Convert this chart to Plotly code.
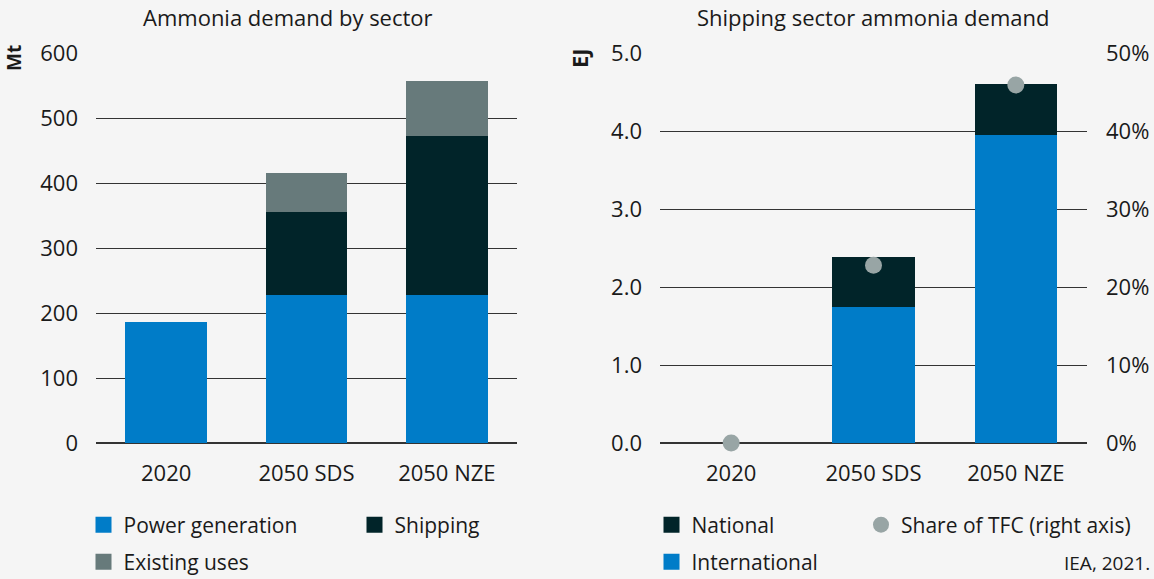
import plotly.graph_objects as go

categories = ["2020", "2050 SDS", "2050 NZE"]
power_generation = [186, 228, 228]
shipping = [0, 127, 244]
existing_uses = [0, 60, 85]

international = [0, 1.74, 3.95]
national = [0, 0.64, 0.65]
share_tfc = [0.0, 0.228, 0.459]

BLUE = "#007cc8"
DARK = "#012429"
GREY = "#677a7b"
MARK = "#98a5a5"
BG = "#f5f5f5"
TXT = "#1a1a1a"
FONT = "Open Sans"
FS = 22
LFS = 21

fig = go.Figure()

# Left chart bars
fig.add_bar(x=categories, y=power_generation, marker=dict(color=BLUE, line_width=0), name="Power generation",
            xaxis="x", yaxis="y", showlegend=False)
fig.add_bar(x=categories, y=shipping, marker=dict(color=DARK, line_width=0), name="Shipping",
            xaxis="x", yaxis="y", showlegend=False)
fig.add_bar(x=categories, y=existing_uses, marker=dict(color=GREY, line_width=0), name="Existing uses",
            xaxis="x", yaxis="y", showlegend=False)

# Right chart bars
fig.add_bar(x=categories, y=international, marker=dict(color=BLUE, line_width=0), name="International",
            xaxis="x2", yaxis="y2", showlegend=False)
fig.add_bar(x=categories, y=national, marker=dict(color=DARK, line_width=0), name="National",
            xaxis="x2", yaxis="y2", showlegend=False)
fig.add_scatter(x=categories, y=share_tfc, mode="markers", name="Share of TFC (right axis)",
                marker=dict(color=MARK, size=17), xaxis="x2", yaxis="y3", showlegend=False,
                cliponaxis=False)

# Legend entries (one legend per entry for exact placement)
def leg(name, color, legend, symbol="square", size=19):
    fig.add_scatter(x=[None], y=[None], mode="markers", name=name,
                    marker=dict(color=color, size=size, symbol=symbol),
                    xaxis="x", yaxis="y", legend=legend, showlegend=True)

leg("Power generation", BLUE, "legend")
leg("Shipping", DARK, "legend2")
leg("Existing uses", GREY, "legend3")
leg("National", DARK, "legend4")
leg("Share of TFC (right axis)", MARK, "legend5", symbol="circle", size=18)
leg("International", BLUE, "legend6")

W, H = 1154, 579
def px(x):
    return x / W
def py(y):
    return 1 - y / H

legfont = dict(family=FONT, size=LFS, color=TXT)
def legcfg(x, y):
    return dict(orientation="h", x=px(x), y=py(y), xanchor="left", yanchor="middle",
                font=legfont, bgcolor="rgba(0,0,0,0)", itemsizing="trace",
                itemclick=False, itemdoubleclick=False)

axis_common = dict(showgrid=False, showline=False, ticks="", zeroline=False,
                   tickfont=dict(family=FONT, size=FS, color=TXT), ticklabelstandoff=15)
yaxis_common = dict(showgrid=True, gridcolor="#333333", gridwidth=1, zeroline=True,
                    zerolinecolor="#333333", zerolinewidth=1.5, ticks="", showline=False,
                    tickfont=dict(family=FONT, size=FS, color=TXT), ticklabelstandoff=17)

fig.update_layout(
    width=W, height=H,
    paper_bgcolor=BG, plot_bgcolor=BG,
    margin=dict(l=0, r=0, t=0, b=0, autoexpand=False),
    barmode="stack", bargap=0.42,
    font=dict(family=FONT, size=FS, color=TXT),
    xaxis=dict(domain=[px(96), px(517)], anchor="y", **axis_common),
    yaxis=dict(domain=[py(443), py(53)], anchor="x", range=[0, 600], dtick=100, **yaxis_common),
    xaxis2=dict(domain=[px(660), px(1087)], anchor="y2", **axis_common),
    yaxis2=dict(domain=[py(443), py(53)], anchor="x2", range=[0, 5], dtick=1, tickformat=".1f",
                **yaxis_common),
    yaxis3=dict(overlaying="y2", anchor="x2", side="right", range=[0, 0.5], dtick=0.1,
                tickformat=".0%", showgrid=False, zeroline=False, ticks="", showline=False,
                tickfont=dict(family=FONT, size=FS, color=TXT), ticklabelstandoff=18),
    legend=legcfg(83.5, 525),
    legend2=legcfg(354.5, 525),
    legend3=legcfg(83.5, 562),
    legend4=legcfg(651.5, 525),
    legend5=legcfg(861, 525),
    legend6=legcfg(651.5, 562),
    showlegend=True,
    annotations=[
        dict(text="Ammonia demand by sector", x=px(288), y=py(17), xref="paper", yref="paper",
             showarrow=False, xanchor="center", yanchor="middle",
             font=dict(family=FONT, size=FS, color=TXT)),
        dict(text="Shipping sector ammonia demand", x=px(873), y=py(17), xref="paper", yref="paper",
             showarrow=False, xanchor="center", yanchor="middle",
             font=dict(family=FONT, size=FS, color=TXT)),
        dict(text="<b>Mt</b>", x=px(14), y=py(43), xref="paper", yref="paper", textangle=-90,
             showarrow=False, xanchor="center", yanchor="top",
             font=dict(family=FONT, size=19, color=TXT)),
        dict(text="<b>EJ</b>", x=px(579), y=py(46), xref="paper", yref="paper", textangle=-90,
             showarrow=False, xanchor="center", yanchor="top",
             font=dict(family=FONT, size=22, color=TXT)),
        dict(text="IEA, 2021.", x=px(1152), y=py(563), xref="paper", yref="paper",
             showarrow=False, xanchor="right", yanchor="middle",
             font=dict(family=FONT, size=19, color=TXT)),
    ],
)

fig.write_html("out.html", config={"displayModeBar": False},
               post_script="document.body.style.margin='0';")
